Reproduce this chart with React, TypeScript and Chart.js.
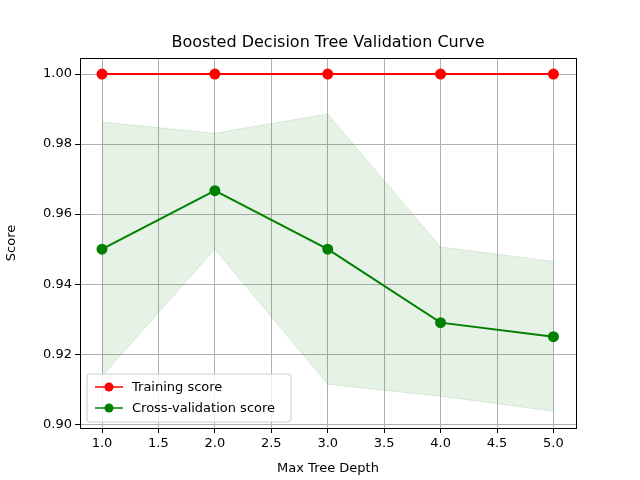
import { useEffect, useRef } from "react";
import Chart from "chart.js/auto";

const depths = [1, 2, 3, 4, 5];
const trainScores = [1.0, 1.0, 1.0, 1.0, 1.0];
const cvScores = [0.95, 0.9667, 0.95, 0.929, 0.925];
const cvUpper = [0.9863, 0.9831, 0.9886, 0.9506, 0.9465];
const cvLower = [0.9137, 0.95, 0.9114, 0.908, 0.9037];
const xTicks = [1.0, 1.5, 2.0, 2.5, 3.0, 3.5, 4.0, 4.5, 5.0];
const yTicks = [0.9, 0.92, 0.94, 0.96, 0.98, 1.0];

const FONT = "'DejaVu Sans', sans-serif";

const pts = (ys: number[]) => depths.map((x, i) => ({ x, y: ys[i] }));

const frame = {
  id: "frame",
  afterDraw(chart: Chart) {
    const { ctx, chartArea: a } = chart;
    ctx.save();
    ctx.strokeStyle = "#000";
    ctx.lineWidth = 1;
    ctx.strokeRect(a.left + 0.5, a.top + 0.5, a.right - a.left, a.bottom - a.top);
    ctx.fillStyle = "#000";
    ctx.font = `16px ${FONT}`;
    ctx.textAlign = "center";
    ctx.textBaseline = "bottom";
    ctx.fillText("Boosted Decision Tree Validation Curve", (a.left + a.right) / 2, a.top - 7);
    // legend
    const lx = a.left + 7, ly = a.bottom - 54, w = 204, h = 48;
    ctx.fillStyle = "rgba(255,255,255,0.8)";
    ctx.strokeStyle = "#ccc";
    ctx.beginPath();
    ctx.roundRect(lx, ly, w, h, 3);
    ctx.fill();
    ctx.stroke();
    const items: [string, string][] = [["Training score", "red"], ["Cross-validation score", "green"]];
    ctx.font = `13px ${FONT}`;
    ctx.textAlign = "left";
    ctx.textBaseline = "middle";
    items.forEach(([label, c], i) => {
      const yy = ly + 13 + i * 21;
      ctx.strokeStyle = c;
      ctx.lineWidth = 1.5;
      ctx.beginPath();
      ctx.moveTo(lx + 8, yy);
      ctx.lineTo(lx + 36, yy);
      ctx.stroke();
      ctx.fillStyle = c;
      ctx.beginPath();
      ctx.arc(lx + 22, yy, 4.5, 0, Math.PI * 2);
      ctx.fill();
      ctx.fillStyle = "#000";
      ctx.fillText(label, lx + 45, yy + 1);
    });
    ctx.restore();
  },
};

export default function App() {
  const ref = useRef<HTMLCanvasElement>(null);

  useEffect(() => {
    document.body.style.margin = "0";
    if (!ref.current) return;
    const chart = new Chart(ref.current, {
      type: "scatter",
      data: {
        datasets: [
          {
            data: pts(cvUpper),
            showLine: true,
            borderColor: "rgba(0,128,0,0.12)",
            borderWidth: 1,
            backgroundColor: "rgba(0,128,0,0.1)",
            pointRadius: 0,
            fill: "+1",
            order: 3,
          },
          {
            data: pts(cvLower),
            showLine: true,
            borderColor: "rgba(0,128,0,0.12)",
            borderWidth: 1,
            pointRadius: 0,
            fill: false,
            order: 3,
          },
          {
            label: "Training score",
            data: pts(trainScores),
            showLine: true,
            borderColor: "red",
            backgroundColor: "red",
            borderWidth: 2,
            pointRadius: 4.5,
            order: 1,
          },
          {
            label: "Cross-validation score",
            data: pts(cvScores),
            showLine: true,
            borderColor: "green",
            backgroundColor: "green",
            borderWidth: 2,
            pointRadius: 4.5,
            order: 2,
          },
        ],
      },
      options: {
        animation: false,
        responsive: false,
        layout: { padding: { top: 58, right: 64, left: 0, bottom: 0 } },
        plugins: { legend: { display: false }, title: { display: false }, tooltip: { enabled: false } },
        scales: {
          x: {
            type: "linear",
            min: 0.805,
            max: 5.2,
            afterBuildTicks: (s: any) => { s.ticks = xTicks.map((v) => ({ value: v })); },
            afterFit: (s: any) => { s.height = 52; },
            ticks: { color: "#000", font: { family: FONT, size: 13 }, callback: (v: any) => Number(v).toFixed(1), maxRotation: 0, autoSkip: false },
            grid: { color: "#b0b0b0", tickColor: "#000", tickLength: 5 },
            border: { display: false },
            title: { display: true, text: "Max Tree Depth", color: "#000", font: { family: FONT, size: 13 }, padding: { top: 2 } },
          },
          y: {
            min: 0.8989,
            max: 1.0046,
            afterBuildTicks: (s: any) => { s.ticks = yTicks.map((v) => ({ value: v })); },
            afterFit: (s: any) => { s.width = 80; },
            ticks: { color: "#000", font: { family: FONT, size: 13 }, callback: (v: any) => Number(v).toFixed(2), autoSkip: false },
            grid: { color: "#b0b0b0", tickColor: "#000", tickLength: 5 },
            border: { display: false },
            title: { display: true, text: "Score", color: "#000", font: { family: FONT, size: 13 }, padding: { bottom: 4 } },
          },
        },
      },
      plugins: [frame],
    });
    return () => chart.destroy();
  }, []);

  return (
    <div style={{ width: 640, height: 480, background: "#fff" }}>
      <canvas ref={ref} width={640} height={480} />
    </div>
  );
}
